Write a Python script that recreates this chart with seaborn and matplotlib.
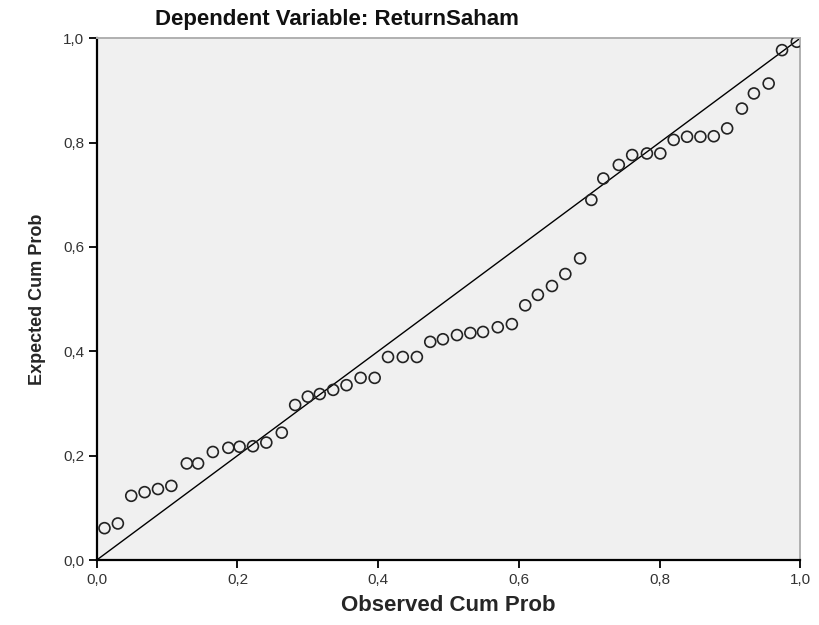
import matplotlib
matplotlib.use("Agg")
import matplotlib.pyplot as plt
import seaborn as sns
import pandas as pd
from matplotlib.ticker import FixedLocator, FuncFormatter

# observed vs expected cumulative probabilities
observed = [0.011, 0.030, 0.049, 0.068, 0.087, 0.106, 0.128, 0.144, 0.165, 0.187,
            0.203, 0.222, 0.241, 0.263, 0.282, 0.300, 0.317, 0.336, 0.355, 0.375,
            0.395, 0.414, 0.435, 0.455, 0.474, 0.492, 0.512, 0.531, 0.549, 0.570,
            0.590, 0.609, 0.627, 0.647, 0.666, 0.687, 0.703, 0.720, 0.742, 0.761,
            0.782, 0.801, 0.820, 0.839, 0.858, 0.877, 0.896, 0.917, 0.934, 0.955,
            0.974, 0.995]
expected = [0.061, 0.070, 0.123, 0.130, 0.136, 0.142, 0.185, 0.185, 0.207, 0.215,
            0.217, 0.218, 0.225, 0.244, 0.297, 0.313, 0.318, 0.326, 0.335, 0.349,
            0.349, 0.389, 0.389, 0.389, 0.418, 0.423, 0.431, 0.435, 0.437, 0.446,
            0.452, 0.488, 0.508, 0.525, 0.548, 0.578, 0.690, 0.731, 0.757, 0.776,
            0.779, 0.779, 0.805, 0.811, 0.811, 0.812, 0.827, 0.865, 0.894, 0.913,
            0.977, 0.993]
reference = [0.0, 1.0]
ticks = [0.0, 0.2, 0.4, 0.6, 0.8, 1.0]

title = "Dependent Variable: ReturnSaham"
xlabel = "Observed Cum Prob"
ylabel = "Expected Cum Prob"

sns.set_style("white")
plt.rcParams["font.family"] = ["Liberation Sans", "DejaVu Sans"]

fig = plt.figure(figsize=(8.2, 6.25), dpi=100)
ax = fig.add_axes([0.118, 0.104, 0.858, 0.835])
ax.set_facecolor("#f0f0f0")

data = pd.DataFrame({"observed": observed, "expected": expected})
ref = pd.DataFrame({"x": reference, "y": reference})

sns.lineplot(data=ref, x="x", y="y", color="black", lw=1.0, ax=ax)
sns.scatterplot(data=data, x="observed", y="expected", s=62, marker="o",
                facecolor="none", edgecolor="#222222", linewidth=1.2, ax=ax,
                zorder=3)

ax.set_xlim(0, 1)
ax.set_ylim(0, 1)
comma = FuncFormatter(lambda v, _: f"{v:.1f}".replace(".", ","))
ax.xaxis.set_major_locator(FixedLocator(ticks))
ax.yaxis.set_major_locator(FixedLocator(ticks))
ax.xaxis.set_major_formatter(comma)
ax.yaxis.set_major_formatter(comma)
ax.tick_params(axis="both", which="major", direction="out", length=6, width=1.3,
               labelsize=11, color="black", labelcolor="#333333",
               bottom=True, left=True, pad=3)

for side in ["left", "bottom"]:
    ax.spines[side].set_color("black")
    ax.spines[side].set_linewidth(1.6)
for side in ["top", "right"]:
    ax.spines[side].set_color("#b0b0b0")
    ax.spines[side].set_linewidth(1.4)

ax.set_xlabel(xlabel, fontsize=16, fontweight="bold", labelpad=6)
ax.set_ylabel(ylabel, fontsize=13, fontweight="bold", labelpad=12)
fig.text(0.411, 0.968, title, fontsize=16, fontweight="bold", ha="center",
         va="center", color="#111111")

fig.savefig("out.png", dpi=100, facecolor="white")
